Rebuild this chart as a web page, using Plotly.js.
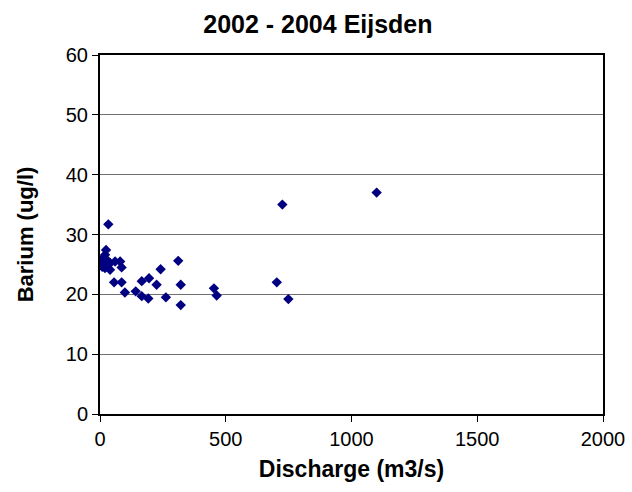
<!DOCTYPE html>
<html>
<head>
<meta charset="utf-8">
<script src="https://cdn.plot.ly/plotly-3.0.1.min.js"></script>
<style>html,body{margin:0;padding:0;background:#fff;}#chart{width:632px;height:492px;}</style>
</head>
<body>
<div id="chart"></div>
<script>
const discharge = [9, 9, 13, 20, 24, 27, 20, 33, 40, 40, 60, 80, 86, 56, 86, 99, 142, 166, 195, 166, 192, 225, 241, 262, 311, 321, 321, 453, 464, 703, 725, 749, 1100];
const barium = [26.0, 24.6, 25.2, 26.6, 27.4, 25.8, 24.4, 31.7, 25.2, 24.1, 25.5, 25.5, 24.5, 22.0, 22.0, 20.3, 20.5, 22.2, 22.7, 19.7, 19.3, 21.6, 24.2, 19.5, 25.6, 21.6, 18.2, 21.0, 19.8, 22.0, 35.0, 19.2, 37.0];
const xTicks = [0, 500, 1000, 1500, 2000];
const yTicks = [0, 10, 20, 30, 40, 50, 60];

const font = "Liberation Sans, Arial, sans-serif";
Plotly.newPlot('chart', [{
  x: discharge, y: barium, type: 'scatter', mode: 'markers',
  marker: {symbol: 'diamond', size: 8, color: '#000080'},
  hoverinfo: 'skip'
}], {
  width: 632, height: 492,
  margin: {l: 100, r: 29, t: 55, b: 78},
  paper_bgcolor: '#ffffff', plot_bgcolor: '#ffffff',
  showlegend: false,
  font: {family: font, color: '#000000', size: 20},
  title: {text: '<b>2002 - 2004 Eijsden</b>', font: {family: font, size: 25, color: '#000'}, x: 0.503, xanchor: 'center', y: 0.951, yanchor: 'middle'},
  xaxis: {
    range: [0, 2000], tickvals: xTicks, ticktext: xTicks.map(String),
    showgrid: false, zeroline: false,
    showline: true, linecolor: '#000', linewidth: 2, mirror: true,
    ticks: 'outside', ticklen: 6, tickwidth: 1, tickcolor: '#000',
    tickfont: {family: font, size: 20, color: '#000'},
    title: {text: '<b>Discharge (m3/s)</b>', font: {family: font, size: 23, color: '#000'}, standoff: 12}
  },
  yaxis: {
    range: [0, 60], tickvals: yTicks, ticktext: yTicks.map(String),
    showgrid: true, gridcolor: '#707070', gridwidth: 1, zeroline: false,
    showline: true, linecolor: '#000', linewidth: 2, mirror: true,
    ticks: 'outside', ticklen: 6, tickwidth: 1, tickcolor: '#000',
    tickfont: {family: font, size: 20, color: '#000'},
    title: {text: '<b>Barium (ug/l)</b>', font: {family: font, size: 22, color: '#000'}, standoff: 26}
  }
}, {displayModeBar: false, staticPlot: true});
</script>
</body>
</html>
